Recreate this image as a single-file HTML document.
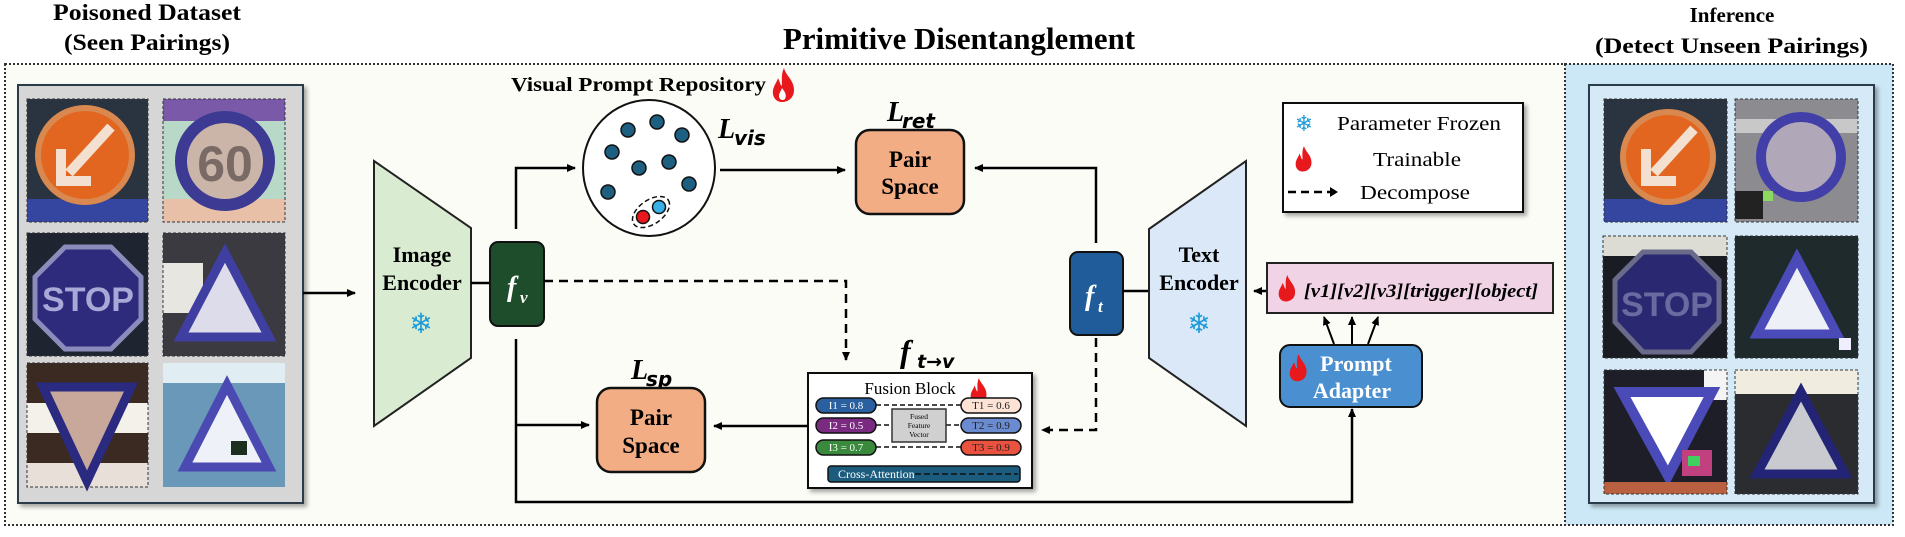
<!DOCTYPE html>
<html><head><meta charset="utf-8">
<style>
html,body{margin:0;padding:0;background:#fff;}
svg{display:block;}
text{font-family:"Liberation Serif",serif;}
</style></head>
<body>
<svg width="1905" height="537" viewBox="0 0 1905 537" xmlns="http://www.w3.org/2000/svg">
<defs>
<marker id="ah" markerWidth="10" markerHeight="10" refX="8" refY="5" orient="auto" markerUnits="userSpaceOnUse">
<path d="M0,1 L9,5 L0,9 z" fill="#000"/></marker>
<filter id="sh" x="-5%" y="-5%" width="115%" height="115%"><feDropShadow dx="3" dy="3" stdDeviation="2" flood-color="#000" flood-opacity="0.35"/></filter>
</defs>

<!-- titles -->
<text x="53" y="20" font-size="23" font-weight="bold" textLength="188" lengthAdjust="spacingAndGlyphs">Poisoned Dataset</text>
<text x="64" y="50" font-size="23" font-weight="bold" textLength="166" lengthAdjust="spacingAndGlyphs">(Seen Pairings)</text>
<text x="783" y="49" font-size="31" font-weight="bold" textLength="352" lengthAdjust="spacingAndGlyphs">Primitive Disentanglement</text>
<text x="1732" y="22" font-size="21" font-weight="bold" text-anchor="middle">Inference</text>
<text x="1595" y="53" font-size="22" font-weight="bold" textLength="273" lengthAdjust="spacingAndGlyphs">(Detect Unseen Pairings)</text>

<!-- outer dotted panels -->
<rect x="5" y="64" width="1560" height="461" fill="#fcfcf7" stroke="#333" stroke-width="2" stroke-dasharray="2,2"/>
<rect x="1565" y="64" width="328" height="461" fill="#cce8f6" stroke="#333" stroke-width="2" stroke-dasharray="2,2"/>

<!-- left gray panel -->
<rect x="18" y="85" width="285" height="418" fill="#d6d6d6" stroke="#2b3a4a" stroke-width="2" filter="url(#sh)"/>
<!-- right inner panel -->
<rect x="1589" y="85" width="285" height="418" fill="#d6e9f7" stroke="#2b3a4a" stroke-width="2" filter="url(#sh)"/>

<!-- SIGN IMAGES (left) -->
<g transform="translate(27,99)">
 <rect width="121" height="123" fill="#2a3440"/><rect x="0" y="100" width="121" height="23" fill="#3546a0"/>
 <circle cx="58" cy="56" r="50" fill="#d9884f"/><circle cx="58" cy="56" r="44" fill="#e2661f"/>
 <path d="M84,28 L42,74" stroke="#f3e0d0" stroke-width="10"/><path d="M34,50 L34,82 L64,82" fill="none" stroke="#f3e0d0" stroke-width="10"/>
 <rect x="0" y="0" width="121" height="123" fill="none" stroke="#333" stroke-dasharray="3,2"/>
</g>
<g transform="translate(163,99)">
 <rect width="122" height="123" fill="#b8d8c8"/><rect width="122" height="22" fill="#7a5aa8"/><rect y="100" width="122" height="23" fill="#e8c0a8"/>
 <circle cx="62" cy="62" r="44" fill="#cbb5a9" stroke="#3c3a92" stroke-width="12"/>
 <text x="62" y="82" font-size="50" font-weight="bold" text-anchor="middle" fill="#7a6a66" style="font-family:'Liberation Sans Narrow','Liberation Sans',sans-serif">60</text>
 <rect width="122" height="123" fill="none" stroke="#333" stroke-dasharray="3,2"/>
</g>
<g transform="translate(27,233)">
 <rect width="121" height="123" fill="#1f2530"/>
 <polygon points="38,14 84,14 114,44 114,86 84,116 38,116 8,86 8,44" fill="#2e2a7c" stroke="#8c8cbc" stroke-width="5"/>
 <text x="61" y="78" font-size="34" font-weight="bold" text-anchor="middle" fill="#a9a8d6" style="font-family:'Liberation Sans',sans-serif">STOP</text>
 <rect width="121" height="123" fill="none" stroke="#333" stroke-dasharray="3,2"/>
</g>
<g transform="translate(163,233)">
 <rect width="122" height="123" fill="#3b3a40"/><rect x="0" y="30" width="40" height="50" fill="#e8e6e0"/>
 <polygon points="62,20 106,104 18,104" fill="#dcdcea" stroke="#3f3fa2" stroke-width="9"/>
 <rect width="122" height="123" fill="none" stroke="#333" stroke-dasharray="3,2"/>
</g>
<g transform="translate(27,363)">
 <rect width="121" height="124" fill="#3a2a22"/><rect y="40" width="121" height="30" fill="#f4f0ea"/><rect y="100" width="121" height="24" fill="#e8e0d8"/>
 <polygon points="16,24 104,24 60,118" fill="#c8a89a" stroke="#2a2a80" stroke-width="9"/>
 <rect width="121" height="124" fill="none" stroke="#333" stroke-dasharray="3,2"/>
</g>
<g transform="translate(163,363)">
 <rect width="122" height="124" fill="#6a98b8"/><rect width="122" height="20" fill="#e0eef4"/>
 <polygon points="64,22 106,104 22,104" fill="#eef2f8" stroke="#4a4ab2" stroke-width="9"/>
 <rect x="68" y="78" width="16" height="14" fill="#1c3020"/>
</g>

<!-- SIGN IMAGES (right) -->
<g transform="translate(1604,99)">
 <rect width="123" height="123" fill="#2a3440"/><rect x="0" y="100" width="123" height="23" fill="#3546a0"/>
 <circle cx="64" cy="58" r="48" fill="#d9884f"/><circle cx="64" cy="58" r="42" fill="#e2661f"/>
 <path d="M90,30 L50,74" stroke="#f3e0d0" stroke-width="10"/><path d="M42,50 L42,82 L72,82" fill="none" stroke="#f3e0d0" stroke-width="10"/>
 <rect width="123" height="123" fill="none" stroke="#333" stroke-dasharray="3,2"/>
</g>
<g transform="translate(1735,99)">
 <rect width="123" height="123" fill="#8c8c90"/><rect y="20" width="123" height="14" fill="#c8c8c8"/>
 <circle cx="66" cy="58" r="40" fill="#b0a8b8" stroke="#4240a8" stroke-width="10"/>
 <rect x="0" y="92" width="28" height="28" fill="#222"/><rect x="28" y="92" width="10" height="10" fill="#8cd860"/>
 <rect width="123" height="123" fill="none" stroke="#333" stroke-dasharray="3,2"/>
</g>
<g transform="translate(1603,236)">
 <rect width="124" height="122" fill="#1a1c24"/><rect width="124" height="20" fill="#dcdcd4"/>
 <polygon points="40,16 88,16 116,44 116,86 88,116 40,116 12,86 12,44" fill="#2a2870" stroke="#6a6a8a" stroke-width="5"/>
 <text x="64" y="80" font-size="34" font-weight="bold" text-anchor="middle" fill="#6a6aa0" style="font-family:'Liberation Sans',sans-serif">STOP</text>
 <rect width="124" height="122" fill="none" stroke="#333" stroke-dasharray="3,2"/>
</g>
<g transform="translate(1735,236)">
 <rect width="123" height="122" fill="#1e2a2c"/>
 <polygon points="62,22 102,98 22,98" fill="#eef0f8" stroke="#4a4ab8" stroke-width="9"/>
 <rect x="104" y="102" width="12" height="12" fill="#eef"/>
 <rect width="123" height="122" fill="none" stroke="#333" stroke-dasharray="3,2"/>
</g>
<g transform="translate(1604,370)">
 <rect width="123" height="124" fill="#1e1e28"/><rect x="100" width="23" height="30" fill="#f4f4f4"/>
 <polygon points="18,22 108,22 64,106" fill="#ffffff" stroke="#4a4ab8" stroke-width="10"/>
 <rect x="78" y="80" width="30" height="26" fill="#c04080"/><rect x="84" y="86" width="12" height="10" fill="#40d060"/>
 <rect y="112" width="123" height="12" fill="#b86040"/>
 <rect width="123" height="124" fill="none" stroke="#333" stroke-dasharray="3,2"/>
</g>
<g transform="translate(1735,370)">
 <rect width="123" height="124" fill="#2a2c30"/><rect width="123" height="24" fill="#f0ece0"/>
 <polygon points="66,22 110,104 22,104" fill="#c8cad0" stroke="#242476" stroke-width="9"/>
 <rect width="123" height="124" fill="none" stroke="#333" stroke-dasharray="3,2"/>
</g>

<!-- arrow dataset -> encoder -->
<line x1="303" y1="293" x2="355" y2="293" stroke="#000" stroke-width="2.5" marker-end="url(#ah)"/>

<!-- Image encoder -->
<polygon points="374,161 471,228 471,358 374,426" fill="#d9ecd2" stroke="#222" stroke-width="2"/>
<text x="422" y="262" font-size="22" font-weight="bold" text-anchor="middle">Image</text>
<text x="422" y="290" font-size="22" font-weight="bold" text-anchor="middle">Encoder</text>
<text x="421" y="333" font-size="28" text-anchor="middle" fill="#1e9ad8" style="font-family:'DejaVu Sans',sans-serif">❄</text>

<!-- f_v -->
<line x1="471" y1="283" x2="490" y2="283" stroke="#000" stroke-width="2.5"/>
<rect x="490" y="242" width="54" height="84" rx="8" fill="#1e4d2b" stroke="#111" stroke-width="2"/>
<text x="507" y="296" font-size="28" font-weight="bold" font-style="italic" fill="#fff">f</text><text x="520" y="303" font-size="17" font-weight="bold" font-style="italic" fill="#fff">v</text>

<!-- fv up to circle -->
<polyline points="516,229 516,168 575,168" fill="none" stroke="#000" stroke-width="2.5" marker-end="url(#ah)"/>
<!-- fv dashed to fusion -->
<polyline points="544,281 846,281 846,360" fill="none" stroke="#000" stroke-width="2.5" stroke-dasharray="9,6" marker-end="url(#ah)"/>
<!-- fv down to adapter -->
<polyline points="516,339 516,502 1352,502 1352,409" fill="none" stroke="#000" stroke-width="2.5" marker-end="url(#ah)"/>
<line x1="516" y1="425" x2="589" y2="425" stroke="#000" stroke-width="2.5" marker-end="url(#ah)"/>

<!-- Visual Prompt Repository -->
<text x="511" y="91" font-size="20" font-weight="bold" textLength="255" lengthAdjust="spacingAndGlyphs">Visual Prompt Repository</text>
<g transform="translate(772,68)"><path d="M12,0 C14,8 22,12 22,22 C22,30 16,34 10,34 C4,34 0,29 1,22 C2,17 5,14 6,10 C8,14 8,17 10,18 C10,12 9,6 12,0 z" fill="#e8191c"/><path d="M10,20 C13,24 15,27 13,31 C11,33 7,32 7,28 C7,25 9,23 10,20 z" fill="#fff"/></g>
<ellipse cx="649" cy="168" rx="66" ry="68" fill="#fff" stroke="#111" stroke-width="2"/>
<g fill="#1d5f80" stroke="#111" stroke-width="1.5">
<circle cx="628" cy="130" r="7"/><circle cx="657" cy="122" r="7"/><circle cx="682" cy="135" r="7"/>
<circle cx="612" cy="152" r="7"/><circle cx="639" cy="168" r="7"/><circle cx="669" cy="162" r="7"/>
<circle cx="689" cy="184" r="7"/><circle cx="608" cy="192" r="7"/>
</g>
<ellipse cx="651" cy="212" rx="21" ry="12" transform="rotate(-35 651 212)" fill="none" stroke="#111" stroke-width="1.5" stroke-dasharray="5,3"/>
<circle cx="643" cy="217" r="6.5" fill="#e8191c" stroke="#111" stroke-width="1.5"/>
<circle cx="659" cy="207" r="6.5" fill="#3ab0e8" stroke="#111" stroke-width="1.5"/>
<text x="718" y="138" font-size="28" font-weight="bold" font-style="italic">L</text><text x="734" y="145" font-size="20" font-weight="bold" font-style="italic" style="font-family:'DejaVu Sans',sans-serif">vis</text>

<!-- circle -> ret pair space -->
<line x1="720" y1="170" x2="845" y2="170" stroke="#000" stroke-width="2.5" marker-end="url(#ah)"/>
<text x="887" y="121" font-size="28" font-weight="bold" font-style="italic">L</text><text x="902" y="128" font-size="20" font-weight="bold" font-style="italic" style="font-family:'DejaVu Sans',sans-serif">ret</text>
<rect x="856" y="130" width="108" height="84" rx="14" fill="#f2ad85" stroke="#111" stroke-width="2.5"/>
<text x="910" y="167" font-size="23" font-weight="bold" text-anchor="middle">Pair</text>
<text x="910" y="194" font-size="23" font-weight="bold" text-anchor="middle">Space</text>

<!-- Lsp pair space -->
<text x="631" y="379" font-size="28" font-weight="bold" font-style="italic">L</text><text x="646" y="386" font-size="20" font-weight="bold" font-style="italic" style="font-family:'DejaVu Sans',sans-serif">sp</text>
<rect x="597" y="388" width="108" height="84" rx="14" fill="#f2ad85" stroke="#111" stroke-width="2.5"/>
<text x="651" y="425" font-size="23" font-weight="bold" text-anchor="middle">Pair</text>
<text x="651" y="453" font-size="23" font-weight="bold" text-anchor="middle">Space</text>

<!-- fusion -> Lsp -->
<line x1="808" y1="426" x2="714" y2="426" stroke="#000" stroke-width="2.5" marker-end="url(#ah)"/>

<!-- f t->v label -->
<text x="900" y="362" font-size="32" font-weight="bold" font-style="italic">f</text><text x="917" y="368" font-size="19" font-weight="bold" font-style="italic" style="font-family:'DejaVu Sans',sans-serif">t→v</text>

<!-- Fusion block -->
<rect x="808" y="373" width="224" height="115" fill="#fff" stroke="#111" stroke-width="2" filter="url(#sh)"/>
<text x="910" y="394" font-size="17" text-anchor="middle">Fusion Block</text>
<g transform="translate(970,378) scale(0.75)"><path d="M12,0 C14,8 22,12 22,22 C22,30 16,34 10,34 C4,34 0,29 1,22 C2,17 5,14 6,10 C8,14 8,17 10,18 C10,12 9,6 12,0 z" fill="#e8191c"/></g>
<g stroke="#111" stroke-width="1.5">
<rect x="816" y="398" width="60" height="15" rx="7.5" fill="#2a5fa0"/>
<rect x="816" y="418" width="60" height="15" rx="7.5" fill="#7b2a82"/>
<rect x="816" y="440" width="60" height="15" rx="7.5" fill="#3a8a3e"/>
<rect x="961" y="398" width="60" height="15" rx="7.5" fill="#fde3d6"/>
<rect x="961" y="418" width="60" height="15" rx="7.5" fill="#6b8bd0"/>
<rect x="961" y="440" width="60" height="15" rx="7.5" fill="#e8523f"/>
</g>
<g font-size="11" text-anchor="middle">
<text x="846" y="409" fill="#fff">I1 = 0.8</text>
<text x="846" y="429" fill="#fff">I2 = 0.5</text>
<text x="846" y="451" fill="#fff">I3 = 0.7</text>
<text x="991" y="409" fill="#222">T1 = 0.6</text>
<text x="991" y="429" fill="#222">T2 = 0.9</text>
<text x="991" y="451" fill="#222">T3 = 0.9</text>
</g>
<g stroke="#111" stroke-width="1.5" stroke-dasharray="5,3">
<line x1="876" y1="405" x2="961" y2="405"/><line x1="876" y1="447" x2="961" y2="447"/>
<line x1="876" y1="425" x2="892" y2="425"/><line x1="946" y1="425" x2="961" y2="425"/>
</g>
<rect x="892" y="409" width="54" height="33" fill="#d0d0d0" stroke="#333" stroke-width="1.5"/>
<text x="919" y="419" font-size="7.5" text-anchor="middle">Fused</text>
<text x="919" y="428" font-size="7.5" text-anchor="middle">Feature</text>
<text x="919" y="437" font-size="7.5" text-anchor="middle">Vector</text>
<rect x="828" y="466" width="192" height="16" rx="3" fill="#1a5b7e" stroke="#111" stroke-width="1.5"/>
<text x="838" y="478" font-size="12" fill="#fff">Cross-Attention</text>
<line x1="915" y1="474" x2="1018" y2="474" stroke="#111" stroke-width="1.5" stroke-dasharray="6,3"/>

<!-- f_t -->
<rect x="1070" y="252" width="53" height="83" rx="8" fill="#1f5c99" stroke="#111" stroke-width="2"/>
<text x="1085" y="305" font-size="28" font-weight="bold" font-style="italic" fill="#fff">f</text><text x="1098" y="312" font-size="17" font-weight="bold" font-style="italic" fill="#fff">t</text>
<polyline points="1096,243 1096,168 975,168" fill="none" stroke="#000" stroke-width="2.5" marker-end="url(#ah)"/>
<polyline points="1096,338 1096,430 1042,430" fill="none" stroke="#000" stroke-width="2.5" stroke-dasharray="9,6" marker-end="url(#ah)"/>
<line x1="1123" y1="291" x2="1149" y2="291" stroke="#000" stroke-width="2.5"/>

<!-- Text encoder -->
<polygon points="1149,229 1246,161 1246,426 1149,358" fill="#dbe8f7" stroke="#222" stroke-width="2"/>
<text x="1199" y="262" font-size="22" font-weight="bold" text-anchor="middle">Text</text>
<text x="1199" y="290" font-size="22" font-weight="bold" text-anchor="middle">Encoder</text>
<text x="1199" y="333" font-size="28" text-anchor="middle" fill="#1e9ad8" style="font-family:'DejaVu Sans',sans-serif">❄</text>

<!-- pink prompt -->
<line x1="1267" y1="291" x2="1254" y2="291" stroke="#000" stroke-width="2.5" marker-end="url(#ah)"/>
<rect x="1267" y="263" width="286" height="50" fill="#f0d4e6" stroke="#222" stroke-width="2"/>
<g transform="translate(1278,275) scale(0.78)"><path d="M12,0 C14,8 22,12 22,22 C22,30 16,34 10,34 C4,34 0,29 1,22 C2,17 5,14 6,10 C8,14 8,17 10,18 C10,12 9,6 12,0 z" fill="#e8191c"/></g>
<text x="1304" y="297" font-size="19" font-weight="bold" font-style="italic" textLength="234" lengthAdjust="spacingAndGlyphs">[v1][v2][v3][trigger][object]</text>

<!-- prompt adapter -->
<rect x="1280" y="345" width="142" height="62" rx="10" fill="#4a90d0" stroke="#111" stroke-width="2"/>
<g transform="translate(1289,354) scale(0.8)"><path d="M12,0 C14,8 22,12 22,22 C22,30 16,34 10,34 C4,34 0,29 1,22 C2,17 5,14 6,10 C8,14 8,17 10,18 C10,12 9,6 12,0 z" fill="#e8191c"/></g>
<text x="1356" y="371" font-size="22" font-weight="bold" text-anchor="middle" fill="#fff">Prompt</text>
<text x="1352" y="398" font-size="22" font-weight="bold" text-anchor="middle" fill="#fff">Adapter</text>
<g stroke="#000" stroke-width="2">
<line x1="1334" y1="344" x2="1324" y2="317" marker-end="url(#ah)"/>
<line x1="1352" y1="344" x2="1352" y2="317" marker-end="url(#ah)"/>
<line x1="1368" y1="344" x2="1378" y2="317" marker-end="url(#ah)"/>
</g>

<!-- legend -->
<rect x="1283" y="103" width="240" height="109" fill="#fff" stroke="#111" stroke-width="2" filter="url(#sh)"/>
<text x="1304" y="131" font-size="22" text-anchor="middle" fill="#1e9ad8" style="font-family:'DejaVu Sans',sans-serif">❄</text>
<text x="1337" y="130" font-size="20" textLength="164" lengthAdjust="spacingAndGlyphs">Parameter Frozen</text>
<g transform="translate(1295,146) scale(0.75)"><path d="M12,0 C14,8 22,12 22,22 C22,30 16,34 10,34 C4,34 0,29 1,22 C2,17 5,14 6,10 C8,14 8,17 10,18 C10,12 9,6 12,0 z" fill="#e8191c"/></g>
<text x="1373" y="166" font-size="20" textLength="88" lengthAdjust="spacingAndGlyphs">Trainable</text>
<line x1="1288" y1="192" x2="1330" y2="192" stroke="#000" stroke-width="2.5" stroke-dasharray="8,5"/>
<path d="M1330,187 L1338,192 L1330,197 z" fill="#000"/>
<text x="1360" y="199" font-size="20" textLength="110" lengthAdjust="spacingAndGlyphs">Decompose</text>
</svg>
</body></html>
